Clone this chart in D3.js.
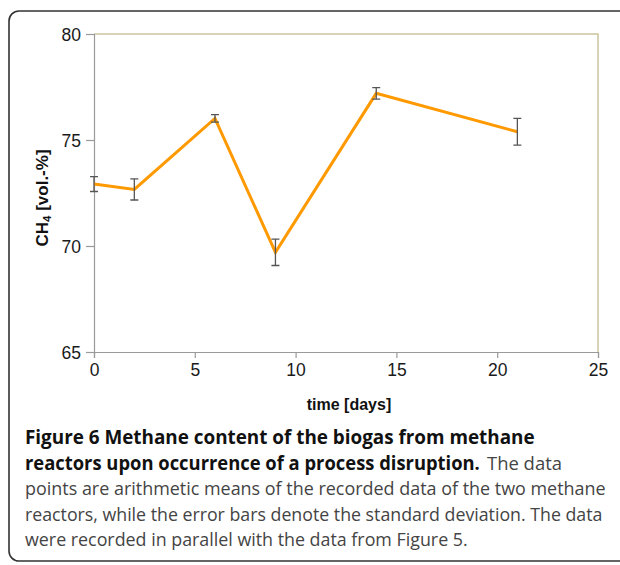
<!DOCTYPE html>
<html>
<head>
<meta charset="utf-8">
<script src="https://cdn.jsdelivr.net/npm/d3@7"></script>
<style>
  html, body { margin: 0; padding: 0; background: #fff; }
  svg { display: block; }
</style>
</head>
<body>
<svg id="chart" width="620" height="565"></svg>
<script>
// Sampling days and mean methane content (vol.-%) with standard deviation
const days = [0, 2, 6, 9, 14, 21];
const ch4Mean = [72.92, 72.67, 76.02, 69.70, 77.20, 75.39];
const ch4Sd = [0.35, 0.50, 0.18, 0.62, 0.27, 0.63];
const xTicks = [0, 5, 10, 15, 20, 25];
const yTicks = [65, 70, 75, 80];
const captionLines = [
  [{ t: "Figure 6 Methane content of the biogas from methane", b: true, x: 25, w: 510 }],
  [{ t: "reactors upon occurrence of a process disruption.", b: true, x: 25, w: 455 },
   { t: "The data", b: false, x: 487, w: 75 }],
  [{ t: "points are arithmetic means of the recorded data of the two methane", b: false, x: 25, w: 581 }],
  [{ t: "reactors, while the error bars denote the standard deviation. The data", b: false, x: 25, w: 578 }],
  [{ t: "were recorded in parallel with the data from Figure 5.", b: false, x: 25, w: 443 }]
];

const svg = d3.select("#chart");

// Rounded frame around figure and caption
svg.append("rect")
  .attr("x", 9).attr("y", 11)
  .attr("width", 640).attr("height", 550)
  .attr("rx", 10).attr("ry", 10)
  .attr("fill", "none")
  .attr("stroke", "#333")
  .attr("stroke-width", 1.6);

const plot = { left: 94, right: 598, top: 34, bottom: 352 };

const x = d3.scaleLinear().domain([0, 25]).range([plot.left, plot.right]);
const y = d3.scaleLinear().domain([65, 80]).range([plot.bottom, plot.top]);

// Top and right frame of the plot area
svg.append("path")
  .attr("d", `M${plot.left},${plot.top}H${plot.right}V${plot.bottom}`)
  .attr("fill", "none")
  .attr("stroke", "#cbc3a0")
  .attr("stroke-width", 1.5);

const axisFont = "'Liberation Sans', Arial, sans-serif";

// Y axis
const yAxis = svg.append("g")
  .attr("transform", `translate(${plot.left},0)`)
  .call(d3.axisLeft(y).tickValues(yTicks).tickSize(8).tickPadding(5));
yAxis.attr("font-family", axisFont).attr("font-size", 17.5);
yAxis.select(".domain").attr("stroke", "#9a9a9a").attr("stroke-width", 1.2);
yAxis.selectAll(".tick line").attr("stroke", "#9a9a9a").attr("stroke-width", 1.2);
yAxis.selectAll(".tick text").attr("fill", "#1a1a1a").attr("dy", "0.35em");

// X axis
const xAxis = svg.append("g")
  .attr("transform", `translate(0,${plot.bottom})`)
  .call(d3.axisBottom(x).tickValues(xTicks).tickSize(6).tickPadding(6));
xAxis.attr("font-family", axisFont).attr("font-size", 17.5);
xAxis.select(".domain").attr("stroke", "#9a9a9a").attr("stroke-width", 1.2);
xAxis.selectAll(".tick line").attr("stroke", "#9a9a9a").attr("stroke-width", 1.2);
xAxis.selectAll(".tick text").attr("fill", "#1a1a1a");

// Axis titles
svg.append("text")
  .attr("x", 349).attr("y", 410)
  .attr("text-anchor", "middle")
  .attr("font-family", axisFont).attr("font-weight", "bold")
  .attr("font-size", 16).attr("fill", "#111")
  .text("time [days]");

const yTitle = svg.append("text")
  .attr("transform", "translate(48,198) rotate(-90)")
  .attr("text-anchor", "middle")
  .attr("font-family", axisFont).attr("font-weight", "bold")
  .attr("font-size", 17).attr("fill", "#111");
yTitle.append("tspan").text("CH");
yTitle.append("tspan").attr("font-size", 11.5).attr("dy", 3).text("4");
yTitle.append("tspan").attr("dy", -3).text(" [vol.-%]");

const pts = days.map((d, i) => ({ d, m: ch4Mean[i], s: ch4Sd[i] }));

// Mean line
svg.append("path")
  .datum(pts)
  .attr("fill", "none")
  .attr("stroke", "#ff9900")
  .attr("stroke-width", 3)
  .attr("stroke-linejoin", "miter")
  .attr("d", d3.line().x(p => x(p.d)).y(p => y(p.m)));

// Standard deviation error bars
const eb = svg.append("g").attr("stroke", "#555").attr("stroke-width", 1.3).attr("fill", "none");
const cap = 4;
eb.selectAll("path.err")
  .data(pts)
  .join("path")
  .attr("class", "err")
  .attr("d", p => {
    const cx = x(p.d), y1 = y(p.m + p.s), y2 = y(p.m - p.s);
    return `M${cx - cap},${y1}H${cx + cap}M${cx},${y1}V${y2}M${cx - cap},${y2}H${cx + cap}`;
  });

// Caption: each run is scaled horizontally to its set width
const capFont = "'Open Sans', 'Noto Sans', sans-serif";
const baselines = [444, 469.5, 495, 520.5, 546];
captionLines.forEach((runs, i) => {
  runs.forEach(r => {
    const g = svg.append("g");
    const t = g.append("text")
      .attr("x", 0).attr("y", 0)
      .attr("font-family", capFont)
      .attr("font-size", 19)
      .attr("font-weight", r.b ? "bold" : "normal")
      .attr("fill", r.b ? "#111" : "#444")
      .text(r.t);
    const natural = t.node().getComputedTextLength();
    g.attr("transform", `translate(${r.x},${baselines[i]}) scale(${r.w / natural},1)`);
  });
});
</script>
</body>
</html>
